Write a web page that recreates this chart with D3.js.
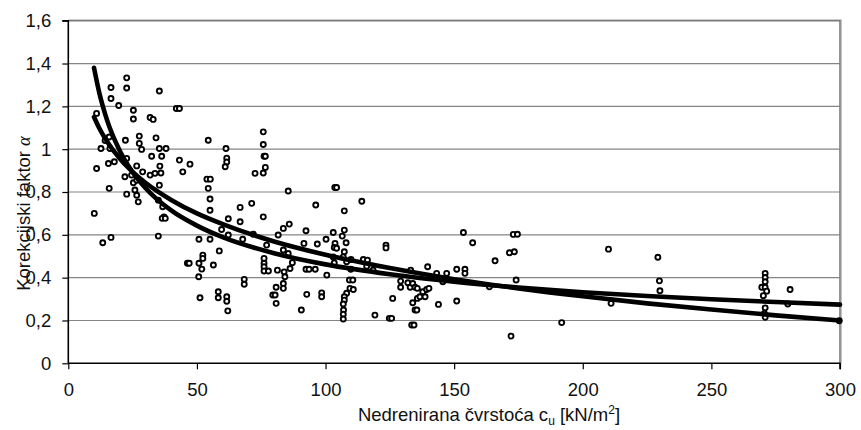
<!DOCTYPE html>
<html>
<head>
<meta charset="utf-8">
<script src="https://cdn.jsdelivr.net/npm/d3@7"></script>
<style>
  body { margin: 0; background: #fff; }
  svg { display: block; font-family: "Liberation Sans", Arial, sans-serif; }
</style>
</head>
<body>
<svg id="main" width="861" height="430"></svg>
<script>
// measured points: undrained strength cu [kN/m2] and alpha
let cuValues = [
  10.1, 11.0, 11.0, 12.7, 13.4, 14.3, 15.9, 16.2, 15.6, 17.9, 15.9, 16.6, 16.6, 16.6, 19.6,
  22.7, 22.7, 25.3, 25.3, 22.2, 22.7, 22.0, 22.7, 24.6, 25.3, 25.9, 26.6, 27.2, 26.6, 27.6,
  27.6, 28.5, 28.9, 31.8, 33.0, 32.4, 31.8, 33.7, 34.1, 35.4, 38.0, 35.4, 35.6, 36.0, 36.3,
  35.4, 35.0, 36.7, 37.2, 42.0, 43.2, 43.2, 44.5, 47.3, 54.4, 53.9, 55.2, 54.4, 55.1, 55.1,
  61.3, 61.6, 61.6, 61.0, 62.2, 66.8, 71.3, 72.6, 75.8, 75.8, 76.1, 76.6, 76.6, 75.8, 75.8,
  85.5, 35.0, 36.5, 37.7, 46.3, 47.0, 50.8, 52.3, 52.3, 51.9, 50.7, 51.2, 50.8, 55.1, 56.4,
  58.7, 59.6, 58.3, 58.3, 61.6, 61.6, 62.0, 62.2, 66.8, 67.8, 68.4, 68.4, 71.9, 76.1, 76.1,
  76.1, 76.1, 77.1, 77.8, 79.5, 80.4, 80.8, 81.3, 80.8, 81.6, 83.6, 83.6, 83.9, 84.2, 83.6,
  83.6, 85.9, 85.5, 86.2, 87.1, 90.6, 103.6, 104.3, 114.1, 96.2, 107.3, 92.4, 103.0, 107.3, 106.5,
  91.6, 96.8, 100.2, 103.7, 103.4, 104.3, 108.0, 107.3, 106.9, 103.4, 103.0, 108.2, 114.7, 116.3, 123.5,
  123.5, 92.4, 93.6, 96.0, 100.5, 109.9, 109.8, 109.3, 110.6, 109.5, 110.8, 108.2, 107.3, 107.3, 106.9,
  107.0, 106.9, 106.9, 92.7, 98.5, 98.5, 119.2, 124.8, 125.7, 126.1, 116.0, 118.5, 129.2, 129.2, 132.0,
  132.9, 133.9, 134.8, 135.7, 133.9, 134.8, 135.5, 133.5, 134.4, 133.1, 135.7, 136.7, 137.8, 138.7, 139.3,
  140.2, 139.7, 143.9, 143.2, 147.1, 145.6, 151.0, 154.2, 154.2, 151.0, 153.6, 157.2, 165.9, 163.7, 171.5,
  173.4, 173.0, 174.6, 174.1, 172.1, 191.8, 210.0, 211.0, 229.2, 229.8, 230.0, 270.9, 270.9, 270.9, 269.6,
  270.9, 271.5, 270.2, 270.9, 270.6, 270.9, 280.6, 279.7, 299.7, 26.6
];
let alphaValues = [
  0.700, 1.167, 0.910, 1.003, 0.563, 1.040, 1.057, 1.003, 0.933, 0.941, 0.817, 0.588, 1.288, 1.237, 1.204,
  1.333, 1.286, 1.182, 1.141, 1.042, 0.957, 0.871, 0.790, 0.879, 0.843, 0.809, 0.785, 0.754, 0.922, 1.061,
  1.027, 0.999, 0.894, 1.148, 1.139, 0.967, 0.879, 0.887, 1.053, 1.003, 1.003, 1.272, 0.921, 0.889, 0.967,
  0.832, 0.762, 0.731, 0.684, 1.190, 1.190, 0.949, 0.894, 0.930, 1.042, 0.860, 0.860, 0.817, 0.767, 0.715,
  1.003, 0.958, 0.940, 0.918, 0.675, 0.728, 0.747, 0.887, 1.081, 1.022, 0.967, 0.967, 0.915, 0.889, 0.684,
  0.805, 0.594, 0.677, 0.677, 0.467, 0.467, 0.467, 0.505, 0.490, 0.440, 0.404, 0.306, 0.579, 0.579, 0.459,
  0.525, 0.625, 0.334, 0.306, 0.311, 0.290, 0.245, 0.599, 0.661, 0.579, 0.392, 0.369, 0.603, 0.490, 0.467,
  0.451, 0.431, 0.552, 0.431, 0.319, 0.319, 0.280, 0.435, 0.355, 0.599, 0.630, 0.529, 0.427, 0.404, 0.373,
  0.350, 0.650, 0.513, 0.443, 0.470, 0.249, 0.821, 0.821, 0.757, 0.739, 0.712, 0.619, 0.611, 0.622, 0.594,
  0.560, 0.557, 0.579, 0.560, 0.541, 0.537, 0.563, 0.521, 0.497, 0.469, 0.497, 0.474, 0.485, 0.482, 0.552,
  0.539, 0.439, 0.439, 0.439, 0.412, 0.485, 0.439, 0.389, 0.389, 0.350, 0.345, 0.327, 0.311, 0.295, 0.277,
  0.249, 0.229, 0.207, 0.322, 0.329, 0.311, 0.225, 0.210, 0.210, 0.303, 0.453, 0.435, 0.384, 0.355, 0.376,
  0.355, 0.373, 0.355, 0.350, 0.283, 0.249, 0.249, 0.179, 0.179, 0.435, 0.303, 0.311, 0.334, 0.311, 0.345,
  0.350, 0.451, 0.275, 0.420, 0.420, 0.381, 0.439, 0.439, 0.420, 0.291, 0.611, 0.563, 0.479, 0.357, 0.516,
  0.521, 0.602, 0.603, 0.389, 0.127, 0.190, 0.533, 0.280, 0.495, 0.385, 0.339, 0.420, 0.401, 0.381, 0.355,
  0.355, 0.337, 0.316, 0.259, 0.233, 0.215, 0.345, 0.277, 0.199, 0.855
];

// the two trend curves, read along x
let trendX = [10, 12, 15, 20, 25, 30, 40, 50, 60, 80, 100, 125, 150, 175, 200, 225, 250, 275, 300];
let logTrend = [1.150, 1.099, 1.037, 0.956, 0.894, 0.843, 0.763, 0.700, 0.650, 0.569, 0.507, 0.445,
  0.393, 0.350, 0.313, 0.280, 0.251, 0.224, 0.200];
let powerTrend = [1.380, 1.266, 1.138, 0.993, 0.893, 0.819, 0.714, 0.643, 0.589, 0.514, 0.462, 0.416,
  0.381, 0.354, 0.332, 0.314, 0.299, 0.286, 0.274];

let xTicks = [0, 50, 100, 150, 200, 250, 300];
let yTicks = [0, 0.2, 0.4, 0.6, 0.8, 1, 1.2, 1.4, 1.6];

function drawChart() {

  let left = 68.3, right = 840, top = 20.7, bottom = 363.3;

  let svg = d3.select('#main');

  let x = d3.scaleLinear().domain([0, 300]).range([left, right]);
  let y = d3.scaleLinear().domain([0, 1.6]).range([bottom, top]);

  // decimal comma
  let hr = d3.formatLocale({ decimal: ',', thousands: '.', grouping: [3], currency: ['', ''] });
  let fmt = hr.format('~g');

  // grid lines
  svg.append('g')
    .selectAll('line').data(yTicks.filter(d => d > 0 && d < 1.6))
    .join('line')
    .attr('x1', left).attr('x2', right)
    .attr('y1', d => y(d)).attr('y2', d => y(d))
    .style('stroke', '#858585')
    .style('stroke-width', 1.2);

  // frame top + right (grey with a faint shadow)
  svg.append('path')
    .attr('d', `M${left},${top - 1} H${right + 1.5} V${bottom}`)
    .style('fill', 'none').style('stroke', '#c4c4c4').style('stroke-width', 1);
  svg.append('path')
    .attr('d', `M${left},${top} H${right} V${bottom}`)
    .style('fill', 'none').style('stroke', '#7a7a7a').style('stroke-width', 1.6);

  // axes
  let yAxis = svg.append('g')
    .attr('transform', `translate(${left},0)`)
    .call(d3.axisLeft(y).tickValues(yTicks).tickFormat(fmt).tickSize(6).tickPadding(11));

  let xAxis = svg.append('g')
    .attr('transform', `translate(0,${bottom})`)
    .call(d3.axisBottom(x).tickValues(xTicks).tickFormat(d => d).tickSize(6).tickPadding(14));

  [xAxis, yAxis].forEach(a => {
    a.select('.domain').attr('stroke', '#000').attr('stroke-width', 1.6);
    a.selectAll('.tick line').attr('stroke', '#000').attr('stroke-width', 1.2);
    a.selectAll('.tick text')
      .attr('fill', '#111')
      .style('font-size', '18.5px')
      .style('font-family', '"Liberation Sans", Arial, sans-serif');
  });
  yAxis.select('.domain').attr('d', `M-6,${top}H0V${bottom}`);
  xAxis.select('.domain').attr('d', `M${left},0H${right}V6`);

  // points
  let pts = cuValues.map((c, i) => [c, alphaValues[i]]);
  svg.append('g')
    .selectAll('circle').data(pts)
    .join('circle')
    .attr('cx', d => x(d[0]))
    .attr('cy', d => y(d[1]))
    .attr('r', 2.5)
    .style('fill', '#fff')
    .style('stroke', '#000')
    .style('stroke-width', 1.9);

  // trend lines on top
  let line = d3.line()
    .x(d => x(d[0]))
    .y(d => y(d[1]))
    .curve(d3.curveMonotoneX);

  [logTrend, powerTrend].forEach(t => {
    svg.append('path')
      .datum(trendX.map((v, i) => [v, t[i]]))
      .attr('d', line)
      .style('fill', 'none')
      .style('stroke', '#000')
      .style('stroke-width', 4.6)
      .style('stroke-linecap', 'round');
  });

  // axis titles
  let xt = svg.append('text')
    .attr('x', 489).attr('y', 421)
    .attr('text-anchor', 'middle')
    .style('font-size', '18.5px')
    .style('fill', '#111');
  xt.append('tspan').text('Nedrenirana čvrstoća c');
  xt.append('tspan').attr('dy', 4).style('font-size', '12px').text('u');
  xt.append('tspan').attr('dy', -4).text(' [kN/m');
  xt.append('tspan').attr('dy', -7).style('font-size', '12px').text('2');
  xt.append('tspan').attr('dy', 7).text(']');

  let yt = svg.append('text')
    .attr('transform', 'translate(30,213.5) rotate(-90)')
    .attr('text-anchor', 'middle')
    .style('font-size', '18.5px')
    .style('fill', '#111');
  yt.append('tspan').text('Korekcijski faktor ');
  yt.append('tspan')
    .style('font-family', '"Liberation Serif", "DejaVu Serif", serif')
    .style('font-style', 'italic')
    .text('α');
}

drawChart();
</script>
</body>
</html>
